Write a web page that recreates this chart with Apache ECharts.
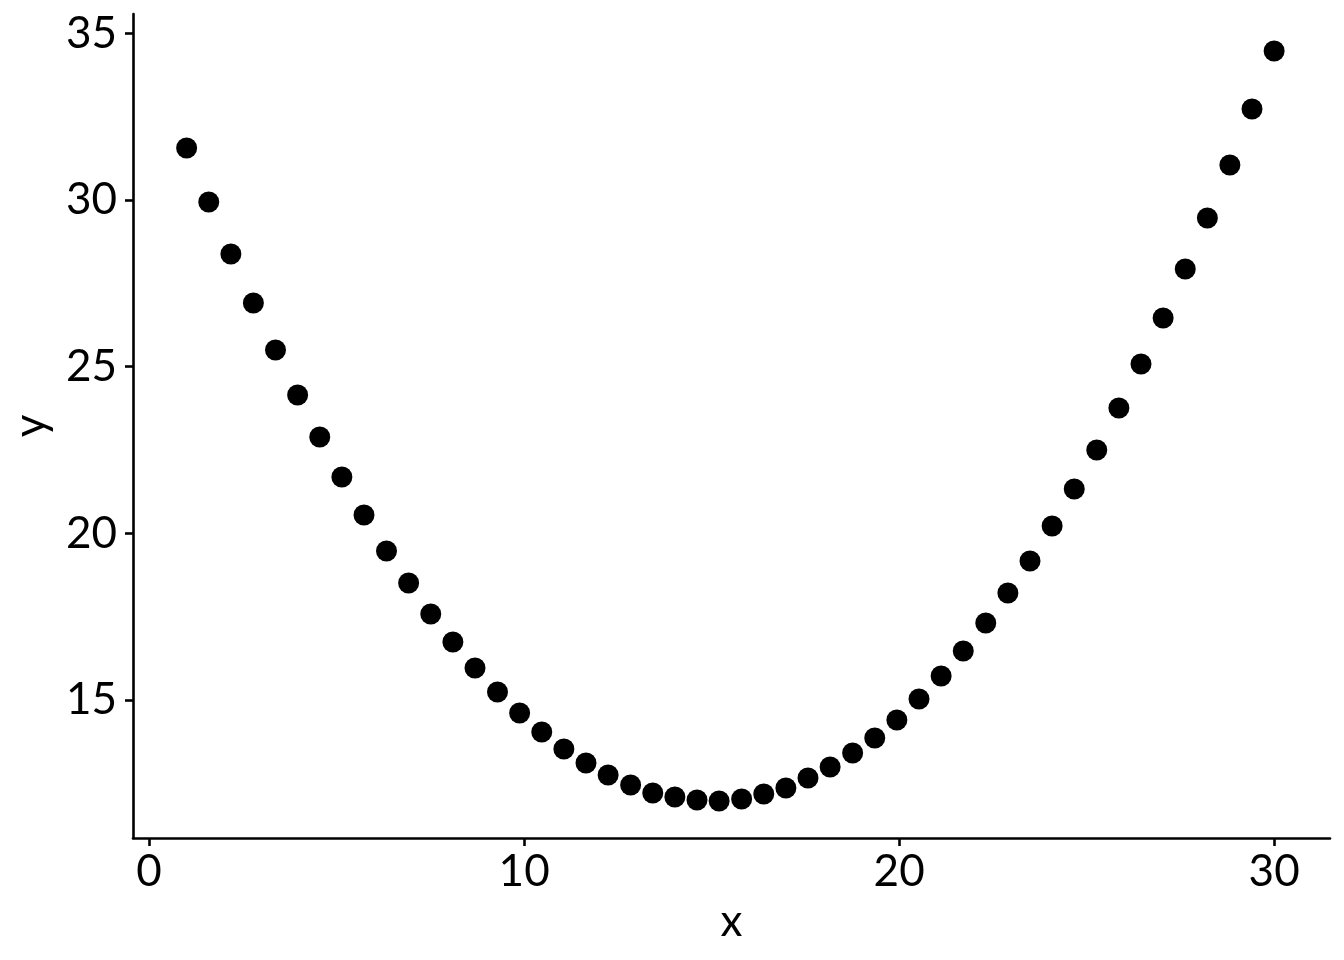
<!DOCTYPE html>
<html>
<head>
<meta charset="utf-8">
<script src="https://cdn.jsdelivr.net/npm/echarts@6/dist/echarts.min.js"></script>
<style>
  html, body { margin: 0; padding: 0; background: #fff; }
  #chart { width: 1344px; height: 960px; }
</style>
</head>
<body>
<div id="chart"></div>
<script>
const xValues = [1.00, 1.59, 2.18, 2.78, 3.37, 3.96, 4.55, 5.14, 5.73, 6.33,
  6.92, 7.51, 8.10, 8.69, 9.29, 9.88, 10.47, 11.06, 11.65, 12.24,
  12.84, 13.43, 14.02, 14.61, 15.20, 15.80, 16.39, 16.98, 17.57, 18.16,
  18.76, 19.35, 19.94, 20.53, 21.12, 21.71, 22.31, 22.90, 23.49, 24.08,
  24.67, 25.27, 25.86, 26.45, 27.04, 27.63, 28.22, 28.82, 29.41, 30.00]
const yValues = [31.56, 29.94, 28.38, 26.91, 25.50, 24.15, 22.89, 21.69, 20.55, 19.47,
  18.51, 17.58, 16.74, 15.96, 15.24, 14.61, 14.04, 13.53, 13.11, 12.75,
  12.45, 12.21, 12.09, 12.00, 11.97, 12.03, 12.18, 12.36, 12.66, 12.99,
  13.41, 13.86, 14.40, 15.03, 15.72, 16.47, 17.31, 18.21, 19.17, 20.22,
  21.33, 22.50, 23.76, 25.08, 26.46, 27.93, 29.46, 31.05, 32.73, 34.47]
const xTicks = [0, 10, 20, 30]
const yTicks = [15, 20, 25, 30, 35]

const chart = echarts.init(document.getElementById('chart'))

const points = xValues.map((x, i) => [x, yValues[i]])
const font = 'Lato'

const option = {
  animation: false,
  grid: { left: 133, right: 14, top: 14, bottom: 122, outerBoundsMode: 'none', containLabel: false },
  xAxis: {
    type: 'value',
    min: -0.43,
    max: 31.49,
    name: 'x',
    nameLocation: 'middle',
    nameGap: 62,
    nameTextStyle: { fontFamily: font, fontSize: 44, color: '#000' },
    splitLine: { show: false },
    axisLine: { show: true, onZero: false, lineStyle: { color: '#000', width: 2.6 } },
    axisTick: { show: true, length: 8, lineStyle: { color: '#000', width: 2.6 }, customValues: xTicks },
    axisLabel: { fontFamily: font, fontSize: 44, color: '#000', margin: 12, customValues: xTicks }
  },
  yAxis: {
    type: 'value',
    min: 10.86,
    max: 35.58,
    name: 'y',
    nameLocation: 'middle',
    nameGap: 80,
    nameRotate: 90,
    nameTextStyle: { fontFamily: font, fontSize: 44, color: '#000' },
    splitLine: { show: false },
    axisLine: { show: true, onZero: false, lineStyle: { color: '#000', width: 2.6 } },
    axisTick: { show: true, length: 8, lineStyle: { color: '#000', width: 2.6 }, customValues: yTicks },
    axisLabel: { fontFamily: font, fontSize: 44, color: '#000', margin: 16, customValues: yTicks }
  },
  series: [{
    type: 'scatter',
    data: points,
    symbol: 'circle',
    symbolSize: 21,
    itemStyle: { color: '#000', opacity: 1 }
  }]
}

chart.setOption(option)
</script>
</body>
</html>
